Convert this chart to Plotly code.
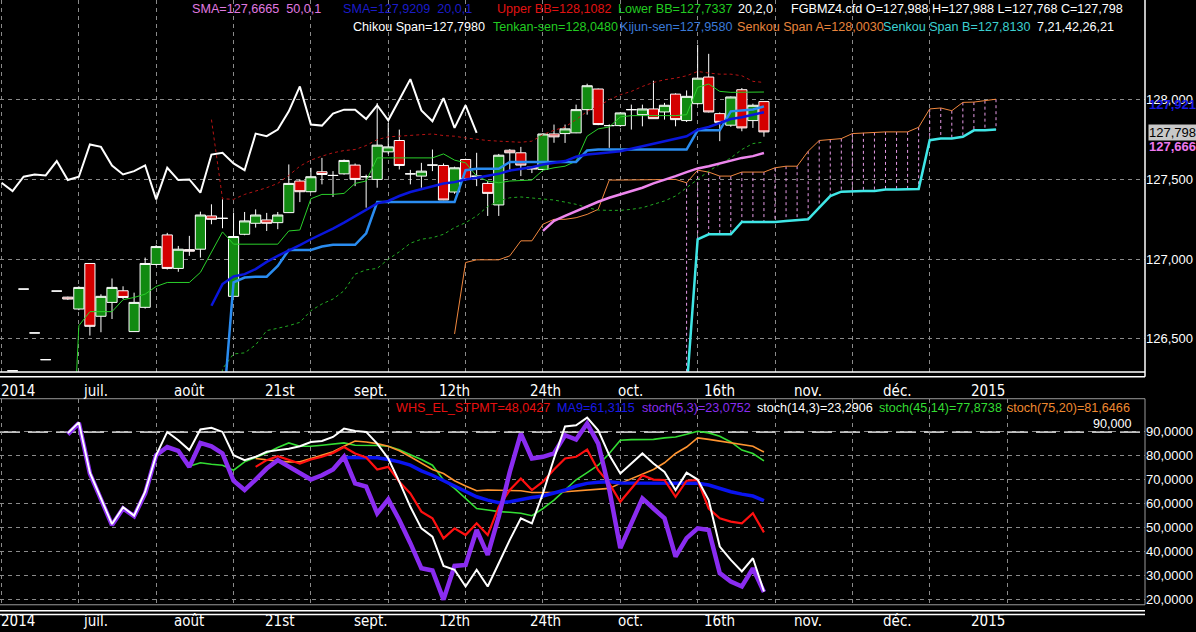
import plotly.graph_objects as go

# ---------------- DATA ----------------
# bar index 0..69 (price bars), cloud projected to bar 90
opens = [None, 126.300, 126.8125, 126.5375, 126.370, 126.800, 126.762, 126.6875, 126.973, 126.642,
         126.729, 126.802, 126.546, 126.698, 126.967, 127.152, 126.942, 127.060, 127.0625, 127.271,
         127.256, 126.767, 127.156, 127.225, 127.246, 127.229, 127.292, 127.490, 127.423, 127.548,
         127.525, 127.535, 127.590, 127.517, 127.500, 127.673, 127.744, 127.535, 127.521, 127.590,
         127.5875, 127.421, 127.625, 127.520, 127.475, 127.340, 127.683, 127.667, 127.577, 127.5625,
         127.785, 127.7875, 127.792, 127.9375, 128.067, 127.8375, 127.8375, 127.9375, 127.906, 127.942,
         127.923, 128.035, 127.869, 127.975, 128.142, 127.9125, 127.840, 128.0625, 127.869, 127.988]
highs = [None, 126.300, 126.8125, 126.5375, 126.370, 126.800, 126.765, 126.830, 126.973, 126.780,
         126.879, 126.830, 126.790, 127.010, 127.090, 127.165, 127.083, 127.146, 127.298, 127.344,
         127.375, 127.292, 127.296, 127.312, 127.290, 127.296, 127.594, 127.500, 127.573, 127.635,
         127.552, 127.625, 127.600, 127.530, 127.979, 127.854, 127.8125, 127.560, 127.604, 127.6875,
         127.600, 127.580, 127.630, 127.667, 127.490, 127.660, 127.690, 127.704, 127.580, 127.790,
         127.844, 127.844, 127.969, 128.100, 128.070, 127.845, 127.920, 127.969, 127.969, 128.119,
         127.980, 128.040, 128.058, 128.344, 128.2875, 127.920, 128.020, 128.073, 127.975, 127.988]
lows = [None, 126.300, 126.8125, 126.5375, 126.370, 126.800, 126.745, 126.680, 126.521, 126.542,
        126.625, 126.750, 126.546, 126.690, 126.960, 126.935, 126.921, 127.021, 127.010, 127.219,
        127.194, 126.767, 127.150, 127.198, 127.177, 127.188, 127.290, 127.358, 127.420, 127.469,
        127.390, 127.530, 127.458, 127.323, 127.448, 127.660, 127.5625, 127.469, 127.448, 127.552,
        127.370, 127.410, 127.490, 127.458, 127.271, 127.271, 127.550, 127.521, 127.540, 127.560,
        127.730, 127.729, 127.790, 127.906, 127.840, 127.698, 127.830, 127.8125, 127.833, 127.880,
        127.875, 127.833, 127.860, 127.970, 127.920, 127.740, 127.830, 127.802, 127.823, 127.768]
closes = [None, 126.300, 126.8125, 126.5375, 126.370, 126.800, 126.750, 126.823, 126.579, 126.767,
          126.823, 126.760, 126.729, 126.973, 127.079, 126.942, 127.0625, 127.050, 127.277, 127.250,
          127.256, 127.142, 127.240, 127.277, 127.225, 127.277, 127.475, 127.423, 127.517, 127.531,
          127.525, 127.619, 127.500, 127.517, 127.715, 127.704, 127.5875, 127.535, 127.552, 127.590,
          127.371, 127.573, 127.500, 127.520, 127.4125, 127.652, 127.667, 127.590, 127.565, 127.785,
          127.767, 127.817, 127.9375, 128.0875, 127.844, 127.8375, 127.917, 127.9375, 127.942, 127.881,
          127.965, 127.875, 128.021, 128.135, 127.923, 127.858, 128.017, 127.823, 127.965, 127.798]

chikou_start = 0
chikou = [127.479, 127.427, 127.517, 127.531, 127.525, 127.615, 127.496, 127.517, 127.719, 127.704,
          127.5875, 127.531, 127.552, 127.588, 127.375, 127.573, 127.496, 127.500, 127.417, 127.656,
          127.667, 127.600, 127.558, 127.7875, 127.771, 127.8125, 127.927, 128.083, 127.844, 127.8375,
          127.9125, 127.9375, 127.9375, 127.879, 127.965, 127.871, 128.000, 128.129, 127.933, 127.865,
          128.010, 127.823, 127.965, 127.792]

tenkan_start = 6
tenkan = [125.14, 126.583, 126.671, 126.671, 126.671, 126.746, 126.760, 126.781, 126.829, 126.854,
          126.854, 126.854, 126.917, 127.042, 127.171, 127.094, 127.094, 127.094, 127.094, 127.094,
          127.177, 127.183, 127.379, 127.406, 127.406, 127.4125, 127.475, 127.490, 127.635, 127.635,
          127.635, 127.635, 127.635, 127.635, 127.660, 127.621, 127.604, 127.521, 127.490, 127.479,
          127.490, 127.494, 127.496, 127.558, 127.573, 127.583, 127.615, 127.771, 127.817, 127.829,
          127.892, 127.900, 127.900, 127.900, 127.900, 127.900, 127.906, 128.077, 128.098, 128.052,
          128.046, 128.046, 128.046, 128.048]

kijun_start = 20
kijun = [126.00, 126.854, 126.885, 126.890, 126.890, 126.958, 127.058, 127.058, 127.058, 127.079,
         127.090, 127.090, 127.090, 127.1625, 127.358, 127.358, 127.358, 127.358, 127.358, 127.358,
         127.358, 127.358, 127.558, 127.567, 127.567, 127.567, 127.610, 127.610, 127.610, 127.610,
         127.610, 127.610, 127.610, 127.681, 127.6875, 127.6875, 127.6875, 127.6875, 127.6875, 127.6875,
         127.6875, 127.6875, 127.6875, 127.808, 127.808, 127.808, 127.927, 127.933, 127.938, 127.958]

sma20_start = 19
sma20 = [126.708, 126.844, 126.892, 126.906, 126.9375, 126.983, 127.021, 127.052, 127.0875, 127.125,
         127.156, 127.192, 127.229, 127.271, 127.3125, 127.350, 127.365, 127.396, 127.421, 127.4375,
         127.458, 127.475, 127.483, 127.500, 127.510, 127.521, 127.535, 127.556, 127.567, 127.577,
         127.594, 127.604, 127.615, 127.642, 127.656, 127.662, 127.671, 127.677, 127.692, 127.708,
         127.723, 127.740, 127.754, 127.771, 127.8125, 127.829, 127.854, 127.879, 127.890, 127.906,
         127.921]

sma50_start = 49
sma50 = [127.177, 127.240, 127.271, 127.302, 127.333, 127.360, 127.385, 127.406, 127.427, 127.448,
         127.475, 127.496, 127.521, 127.546, 127.569, 127.583, 127.600, 127.619, 127.635, 127.646,
         127.666]

bb_start = 19
bb_upper = [127.875, 127.379, 127.375, 127.406, 127.427, 127.448, 127.475, 127.525, 127.583, 127.621,
            127.646, 127.667, 127.681, 127.6875, 127.7125, 127.750, 127.767, 127.771, 127.775, 127.781,
            127.785, 127.775, 127.771, 127.760, 127.750, 127.744, 127.740, 127.738, 127.733, 127.740,
            127.781, 127.808, 127.829, 127.875, 127.927, 127.958, 128.000, 128.031, 128.052, 128.083,
            128.108, 128.125, 128.135, 128.150, 128.177, 128.167, 128.160, 128.160, 128.150, 128.115,
            128.108]
bb_lower = [125.54, 126.3125, 126.406, 126.4125, 126.4625, 126.552, 126.567, 126.583, 126.604, 126.677,
            126.719, 126.750, 126.802, 126.906, 126.933, 126.942, 127.000, 127.046, 127.100, 127.125,
            127.135, 127.156, 127.198, 127.229, 127.271, 127.330, 127.365, 127.385, 127.390, 127.385,
            127.379, 127.371, 127.358, 127.344, 127.323, 127.308, 127.306, 127.306, 127.3125, 127.323,
            127.344, 127.365, 127.396, 127.448, 127.500, 127.552, 127.594, 127.635, 127.6875, 127.725,
            127.734]

span_a_start = 41
span_a = [126.531, 126.979, 126.996, 126.996, 126.996, 127.021, 127.115, 127.115, 127.219, 127.250,
          127.250, 127.260, 127.281, 127.3125, 127.496, 127.496, 127.496, 127.496, 127.496, 127.496,
          127.500, 127.479, 127.558, 127.546, 127.521, 127.521, 127.546, 127.546, 127.546, 127.573,
          127.583, 127.583, 127.677, 127.744, 127.750, 127.756, 127.7875, 127.792, 127.794, 127.798,
          127.798, 127.798, 127.827, 127.942, 127.948, 127.931, 127.983, 127.985, 127.994, 128.003]

span_b_start = 62
span_b = [126.18, 127.125, 127.156, 127.156, 127.156, 127.233, 127.233, 127.233, 127.233, 127.240,
          127.246, 127.250, 127.323, 127.396, 127.423, 127.427, 127.427, 127.427, 127.4375, 127.4375,
          127.4375, 127.440, 127.746, 127.756, 127.756, 127.767, 127.808, 127.808, 127.813]

# lower panel
stoch5_start = 6
stoch5 = [89.0, 93.7, 72.6, 61.8, 51.1, 58.0, 54.8, 64.3, 80.3, 83.7,
          82.1, 75.4, 85.4, 84.0, 81.0, 69.6, 65.7, 70.1, 74.7, 78.2,
          75.4, 72.9, 70.1, 71.9, 74.3, 79.6, 68.5, 67.1, 56.0, 61.8,
          53.2, 43.5, 33.0, 32.1, 19.9, 34.0, 34.4, 49.0, 38.6, 54.6,
          73.3, 89.3, 78.9, 79.6, 81.0, 88.6, 86.8, 93.5, 85.1, 66.0,
          41.4, 51.8, 62.2, 58.0, 53.9, 37.9, 45.6, 49.7, 49.0, 31.0,
          27.5, 25.4, 33.0, 23.1]
stoch14_start = 6
stoch14 = [89.5, 94.0, 73.0, 62.0, 51.5, 58.5, 55.0, 65.0, 80.3, 90.0,
           86.5, 82.4, 91.0, 91.7, 90.0, 80.3, 78.2, 79.6, 81.7, 82.4,
           83.0, 84.0, 85.8, 86.2, 87.9, 91.4, 90.4, 90.0, 85.1, 78.9,
           69.2, 58.7, 49.7, 46.2, 34.0, 32.4, 25.4, 32.4, 25.4, 35.1,
           44.9, 53.9, 51.8, 64.3, 78.9, 92.3, 92.8, 96.0, 90.7, 80.3,
           72.6, 76.8, 81.0, 76.8, 73.3, 65.7, 73.0, 70.1, 61.5, 42.1,
           36.5, 31.7, 37.2, 23.3]
whs_start = 23
whs = [75.4, 78.2, 79.9, 78.2, 76.8, 78.5, 79.6, 81.2, 83.7, 81.0,
       79.3, 74.3, 75.4, 69.2, 64.3, 56.7, 53.9, 45.5, 49.7, 46.9,
       51.8, 46.9, 58.7, 65.7, 70.5, 65.7, 69.2, 74.3, 78.9, 79.6,
       82.6, 74.0, 68.5, 60.8, 66.4, 71.9, 70.1, 69.9, 62.9, 69.6,
       69.9, 58.0, 53.9, 52.5, 51.8, 56.0, 48.0]
ma9_start = 31
ma9 = [79.3, 79.3, 79.2, 79.2, 78.5, 77.5, 76.1, 73.7, 71.9, 69.6,
       67.4, 65.0, 62.9, 61.5, 60.4, 60.8, 61.8, 62.6, 63.2, 64.3,
       65.7, 67.4, 68.5, 69.0, 69.2, 68.7, 68.7, 68.7, 68.7, 68.7,
       68.7, 68.5, 68.5, 67.8, 66.4, 65.0, 64.0, 63.2, 61.3]
stoch45_start = 17
stoch45 = [75.7, 77.1, 76.5, 76.1, 74.0, 77.5, 79.3, 81.2, 83.5, 85.4,
           84.0, 84.0, 84.4, 84.9, 85.4, 84.4, 84.4, 84.3, 84.0, 82.6,
           80.5, 78.5, 76.1, 69.9, 66.4, 62.2, 58.0, 57.4, 56.7, 56.4,
           56.0, 55.0, 58.0, 61.5, 65.7, 70.0, 73.0, 76.1, 81.0, 86.5,
           86.8, 86.8, 86.9, 87.5, 87.9, 89.0, 90.3, 89.6, 88.2, 85.8,
           82.4, 81.0, 77.9]
stoch75_start = 23
stoch75 = [78.9, 78.2, 77.8, 77.5, 77.5, 78.9, 80.3, 81.7, 84.0, 86.2,
           85.8, 85.1, 84.0, 82.1, 79.6, 76.8, 74.3, 72.6, 69.6, 67.4,
           65.4, 65.7, 65.7, 65.7, 65.4, 64.7, 64.6, 64.7, 65.0, 65.3,
           65.7, 66.0, 66.4, 68.5, 70.5, 72.6, 74.3, 77.1, 81.0, 83.7,
           87.5, 86.9, 86.1, 85.4, 84.7, 84.0, 81.6]
stoch_level = 90

# axis labels
month_pos = [1.45, 8.55, 16.97, 25.2, 33.35, 41.04, 49.19, 56.88, 65.02, 72.99, 81.13, 89.28]
month_labels = ["2014", "juil.", "août", "21st", "sept.", "12th", "24th", "oct.", "16th",
                "nov.", "déc.", "2015"]
price_ticks = [126.5, 127.0, 127.5, 128.0]
price_tick_text = ["126,500", "127,000", "127,500", "128,000"]
osc_ticks = [20, 30, 40, 50, 60, 70, 80, 90]
osc_tick_text = ["20,0000", "30,0000", "40,0000", "50,0000", "60,0000", "70,0000", "80,0000", "90,0000"]
grid_top = list(range(0, 85, 7))
grid_bot = list(range(0, 92, 7))

# ---------------- FIGURE ----------------
W, H = 1196, 632
PW = 1145.0
FS = 12.6


def xs(start, vals):
    return list(range(start, start + len(vals)))


def px(v):
    return v / PW


def py(v):
    return 1 - v / H


fig = go.Figure()

# cloud hatch (vertical dashed lines between spans)
cx, cy = [], []
for i, a in enumerate(span_a):
    bar = span_a_start + i
    j = bar - span_b_start
    if 0 <= j < len(span_b):
        cx += [bar, bar, None]
        cy += [a, span_b[j], None]
fig.add_trace(go.Scatter(x=cx, y=cy, mode="lines", line=dict(color="#e79be7", width=1, dash="3px,3px"),
                         xaxis="x", yaxis="y", hoverinfo="skip"))

top_lines = [
    (span_a_start, span_a, "#f0873e", 1, None),
    (span_b_start, span_b, "#3fe6e6", 2.5, None),
    (bb_start, bb_upper, "#b81414", 1, "3px,3px"),
    (bb_start, bb_lower, "#22aa22", 1, "3px,3px"),
    (sma50_start, sma50, "#ee86ee", 2.5, None),
]
for st, vals, col, w, dash in top_lines:
    fig.add_trace(go.Scatter(x=xs(st, vals), y=vals, mode="lines",
                             line=dict(color=col, width=w, dash=dash), xaxis="x", yaxis="y",
                             hoverinfo="skip"))

fig.add_trace(go.Candlestick(
    x=list(range(len(opens))), open=opens, high=highs, low=lows, close=closes,
    increasing=dict(fillcolor="#118a11", line=dict(color="#ffffff", width=1)),
    decreasing=dict(fillcolor="#d40000", line=dict(color="#ffffff", width=1)),
    whiskerwidth=0, xaxis="x", yaxis="y", hoverinfo="skip"))

top_lines2 = [
    (tenkan_start, tenkan, "#2ad02a", 1),
    (kijun_start, kijun, "#2a8cf0", 2.5),
    (sma20_start, sma20, "#0a16dc", 2.5),
    (chikou_start, chikou, "#ffffff", 2),
]
for st, vals, col, w in top_lines2:
    fig.add_trace(go.Scatter(x=xs(st, vals), y=vals, mode="lines", line=dict(color=col, width=w),
                             xaxis="x", yaxis="y", hoverinfo="skip"))

bot_lines = [
    (stoch45_start, stoch45, "#33dd33", 1.6),
    (stoch75_start, stoch75, "#ff9430", 1.6),
    (ma9_start, ma9, "#0a14f0", 3.5),
    (whs_start, whs, "#ff1010", 2.2),
    (stoch5_start, stoch5, "#8a2cf0", 4.5),
    (stoch14_start, stoch14, "#ffffff", 2),
]
for st, vals, col, w in bot_lines:
    fig.add_trace(go.Scatter(x=xs(st, vals), y=vals, mode="lines", line=dict(color=col, width=w),
                             xaxis="x2", yaxis="y2", hoverinfo="skip"))

grid_col = "#8a8a8a"
xr = [-1.5 / 11.05, (PW - 1.5) / 11.05]
fig.update_layout(
    width=W, height=H, margin=dict(l=0, r=W - PW, t=0, b=0),
    paper_bgcolor="#000000", plot_bgcolor="#000000", showlegend=False,
    boxgap=0.08, boxgroupgap=0, hovermode=False,
    font=dict(family="Liberation Sans, Arial, sans-serif", size=13, color="#ffffff"),
    xaxis=dict(domain=[0, 1], range=xr, anchor="y", tickmode="array", tickvals=grid_top,
               showticklabels=False, ticks="", showgrid=True, gridcolor=grid_col, griddash="4px,4px",
               gridwidth=1, zeroline=False, showline=False, rangeslider=dict(visible=False)),
    yaxis=dict(domain=[py(373), 1], range=[128 - (373 - 100) / 160, 128 + 100 / 160], side="right",
               anchor="x", tickmode="array", tickvals=price_ticks, ticktext=price_tick_text,
               ticks="", showgrid=True, gridcolor=grid_col, griddash="4px,4px", zeroline=False,
               showline=False, tickfont=dict(size=13, color="#ffffff")),
    xaxis2=dict(domain=[0, 1], range=xr, anchor="y2", tickmode="array", tickvals=grid_bot,
                showticklabels=False, ticks="", showgrid=True, gridcolor=grid_col, griddash="4px,4px",
                zeroline=False, showline=False),
    yaxis2=dict(domain=[py(606.7), py(400)],
                range=[90 - (606.7 - 433.3) / 2.4, 90 + (433.3 - 400) / 2.4], side="right",
                anchor="x2", tickmode="array", tickvals=osc_ticks, ticktext=osc_tick_text, ticks="",
                showgrid=True, gridcolor=grid_col, griddash="4px,4px", zeroline=False, showline=False,
                tickfont=dict(size=13, color="#ffffff")),
)

# frames
shapes = [
    dict(type="line", xref="paper", yref="paper", x0=1, x1=1, y0=py(378), y1=1,
         line=dict(color="#ffffff", width=1.5)),
    dict(type="line", xref="paper", yref="paper", x0=0, x1=1, y0=py(373.3), y1=py(373.3),
         line=dict(color="#ffffff", width=1.5)),
    dict(type="line", xref="paper", yref="paper", x0=0, x1=1, y0=py(378), y1=py(378),
         line=dict(color="#ffffff", width=1.5)),
    dict(type="line", xref="paper", yref="paper", x0=0, x1=1, y0=py(400), y1=py(400),
         line=dict(color="#9a9a9a", width=1)),
    dict(type="line", xref="paper", yref="paper", x0=0, x1=1, y0=py(606.7), y1=py(606.7),
         line=dict(color="#9a9a9a", width=1)),
    dict(type="line", xref="paper", yref="paper", x0=1, x1=1, y0=py(606.7), y1=py(400),
         line=dict(color="#9a9a9a", width=1)),
    dict(type="line", xref="paper", yref="paper", x0=0, x1=1, y0=py(612.7), y1=py(612.7),
         line=dict(color="#ffffff", width=1.5)),
    dict(type="line", xref="paper", yref="paper", x0=0, x1=1, y0=py(616.5), y1=py(616.5),
         line=dict(color="#ffffff", width=1.5)),
    dict(type="line", xref="paper", yref="y2", x0=0, x1=1, y0=stoch_level, y1=stoch_level,
         line=dict(color="#ffffff", width=1.5, dash="20px,8px"), layer="below"),
]
fig.update_layout(shapes=shapes)

NB = "\u00a0"
ann = []


def label(xp, yp, text, color, size=FS, family="Liberation Sans, Arial, sans-serif", anchor="left",
          bg=None):
    d = dict(xref="paper", yref="paper", x=px(xp), y=py(yp), text=text, showarrow=False,
             xanchor=anchor, yanchor="middle", font=dict(color=color, size=size, family=family),
             borderpad=0)
    if bg:
        d["bgcolor"] = bg
    ann.append(d)


row1 = [(191, "SMA=127,6665" + NB * 2 + "50,0,1", "#e07ae0"),
        (342, "SMA=127,9209" + NB * 2 + "20,0,1", "#1c1cc8"),
        (496, "Upper BB=128,1082", "#e01212"),
        (617, "Lower BB=127,7337", "#22cc22"),
        (737, "20,2,0", "#ffffff"),
        (790, "FGBMZ4.cfd O=127,988 H=127,988 L=127,768 C=127,798", "#ffffff")]
row2 = [(352, "Chikou Span=127,7980", "#ffffff"),
        (492, "Tenkan-sen=128,0480", "#22cc22"),
        (619, "Kijun-sen=127,9580", "#3a7ad8"),
        (736, "Senkou Span A=128,0030", "#e8843c"),
        (882, "Senkou Span B=127,8130", "#3cd0d0"),
        (1036, "7,21,42,26,21", "#ffffff")]
row3 = [(395, "WHS_EL_STPMT=48,0427", "#e81010"),
        (556, "MA9=61,3115", "#1a1ae8"),
        (641, "stoch(5,3)=23,0752", "#8a2cf0"),
        (756, "stoch(14,3)=23,2906", "#ffffff"),
        (878, "stoch(45,14)=77,8738", "#33dd33"),
        (1006, "stoch(75,20)=81,6466", "#f08a30")]
for x0, t, c in row1:
    label(x0, 9, t, c)
for x0, t, c in row2:
    label(x0, 27, t, c)
for x0, t, c in row3:
    label(x0, 409, t, c)
label(1133, 425, "90,000", "#ffffff", anchor="right")

# price flags on the right scale
label(1148, 105, "<b>127,921</b>", "#1a1ae6", size=13)
label(1148, 133, "127,798", "#000000", size=13, bg="#c8c8c8")
label(1148, 147, "<b>127,666</b>", "#ee78ee", size=13)

# month labels (x in bar units)
narrow = "Liberation Sans Narrow, Arial Narrow, DejaVu Sans Condensed, sans-serif"
for pos, t in zip(month_pos, month_labels):
    for ypx in (392, 623):
        ann.append(dict(xref="x", yref="paper", x=pos, y=py(ypx), text=t, showarrow=False,
                        xanchor="center", yanchor="middle",
                        font=dict(color="#ffffff", size=15, family=narrow)))

fig.update_layout(annotations=ann)
fig.write_html("out.html",
               config={"displayModeBar": False, "staticPlot": True},
               post_script="document.body.style.margin='0';document.body.style.padding='0';"
                           "document.body.style.overflow='hidden';"
                           "document.body.style.background='#000';")
